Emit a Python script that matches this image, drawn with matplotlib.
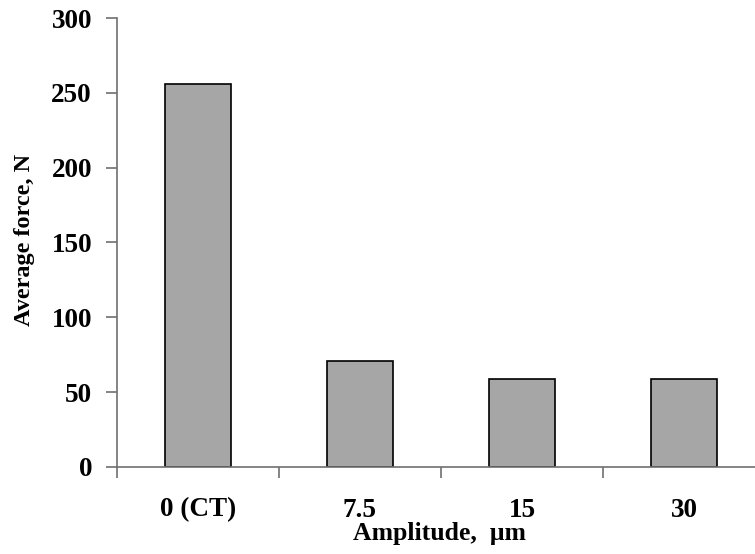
import matplotlib.pyplot as plt
import numpy as np

categories = ["0 (CT)", "7.5", "15", "30"]
forces = [256, 71, 59, 59]

plt.rcParams["font.family"] = ["Liberation Serif", "DejaVu Serif"]
plt.rcParams["font.weight"] = "bold"

fig = plt.figure(figsize=(7.55, 5.54), dpi=100)
# axes runs slightly past the right edge, as in the original
ax = fig.add_axes([117 / 755, 1 - 467 / 554, 648 / 755, 449 / 554])

x = np.arange(len(categories))
ax.bar(x, forces, width=0.41, color="#a6a6a6", edgecolor="black", linewidth=1.2)

ax.set_xlim(-0.5, len(categories) - 0.5)
ax.set_ylim(0, 300)
ax.set_yticks(np.arange(0, 301, 50))
ax.set_xticks(x)
ax.set_xticklabels(categories)
ax.set_xticks(np.arange(-0.5, len(categories), 1), minor=True)

for s in ["top", "right"]:
    ax.spines[s].set_visible(False)
for s in ["left", "bottom"]:
    ax.spines[s].set_color("#707070")
    ax.spines[s].set_linewidth(1.2)

ax.tick_params(axis="y", direction="out", length=8, width=1.2, color="#707070",
               labelsize=19.5, pad=10)
ax.tick_params(axis="x", which="major", length=0, labelsize=19.5, pad=22)
ax.tick_params(axis="x", which="minor", direction="out", length=8, width=1.2,
               color="#707070")

ax.set_ylabel("Average force, N", fontsize=17.5, fontweight="bold")
ax.set_xlabel("Amplitude,  \u03bcm", fontsize=18.5, fontweight="bold")
ax.xaxis.set_label_coords((439 - 117) / 648, -(522 - 467) / 449)
ax.yaxis.set_label_coords(-(117 - 35) / 648, (467 - 240) / 449)

fig.savefig("out.png", dpi=100)
